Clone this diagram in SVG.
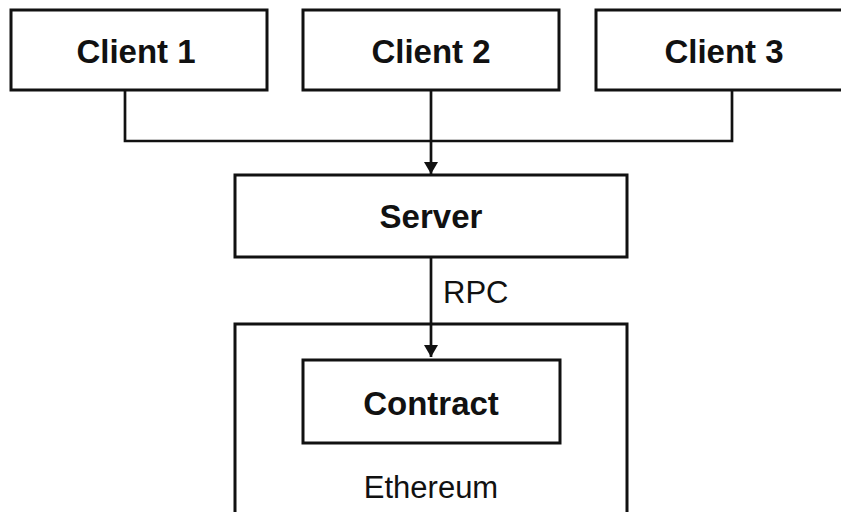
<svg xmlns="http://www.w3.org/2000/svg" width="841" height="512" viewBox="0 0 841 512">
<defs>
<style>
.box{fill:#fff;stroke:#111;stroke-width:3}
.lbl{font-family:"Liberation Sans",Arial,sans-serif;font-weight:bold;font-size:33px;fill:#111;text-anchor:middle}
.reg{font-family:"Liberation Sans",Arial,sans-serif;font-size:31px;fill:#111}
.conn{fill:none;stroke:#111;stroke-width:2.7}
</style>
<marker id="arr" viewBox="0 0 12 14" refX="12" refY="7" markerWidth="12" markerHeight="14" markerUnits="userSpaceOnUse" orient="auto">
<path d="M0,0 L12,7 L0,14 Z" fill="#111"/>
</marker>
</defs>
<rect width="841" height="512" fill="#fff"/>
<g id="ethereum">
<rect class="box" x="235" y="324" width="392" height="200"/>
<text class="reg" x="431" y="498" text-anchor="middle" font-size="32">Ethereum</text>
</g>
<g id="client1">
<rect class="box" x="11" y="10" width="256" height="80"/>
<text class="lbl" x="136" y="63">Client 1</text>
</g>
<g id="client2">
<rect class="box" x="303" y="10" width="256" height="80"/>
<text class="lbl" x="431" y="63">Client 2</text>
</g>
<g id="client3">
<rect class="box" x="596" y="10" width="256" height="80"/>
<text class="lbl" x="724" y="63">Client 3</text>
</g>
<g id="server">
<rect class="box" x="235" y="175" width="392" height="82"/>
<text class="lbl" x="431" y="228">Server</text>
</g>
<g id="contract">
<rect class="box" x="303" y="360" width="257" height="83"/>
<text class="lbl" x="431" y="415">Contract</text>
</g>
<g id="connectors">
<polyline class="conn" points="125,90 125,141 732,141 732,90"/>
<line class="conn" x1="431" y1="90" x2="431" y2="174" marker-end="url(#arr)"/>
<line class="conn" x1="431" y1="257" x2="431" y2="357" marker-end="url(#arr)"/>
<text class="reg" x="443" y="303">RPC</text>
</g>
</svg>
